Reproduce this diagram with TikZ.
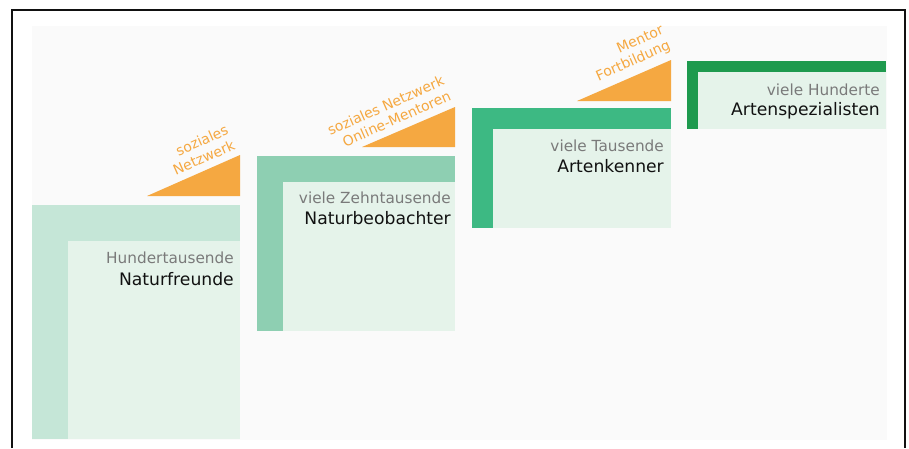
\documentclass[tikz,border=0pt]{standalone}
\usepackage{fontspec}
\setmainfont{DejaVu Sans}
\usepackage{xcolor}
\usetikzlibrary{positioning,calc}

\definecolor{pagegray}{HTML}{FAFAFA}
\definecolor{innergreen}{HTML}{E5F3EA}
\definecolor{greenA}{HTML}{C5E6D7}
\definecolor{greenB}{HTML}{8ECFB2}
\definecolor{greenC}{HTML}{3DB983}
\definecolor{greenD}{HTML}{1E9A4E}
\definecolor{wedgeorange}{HTML}{F5A841}
\definecolor{countgray}{HTML}{7A7A7A}
\definecolor{rolegray}{HTML}{111111}

\begin{document}
\begin{tikzpicture}[
    x=1pt, y=-1pt,
    stairbox/.style={rectangle, inner sep=0, outer sep=0, anchor=north west},
    innerbox/.style={stairbox, fill=innergreen},
    count/.style={anchor=base east, inner sep=0, text=countgray, font=\fontsize{15.3}{18}\selectfont},
    role/.style={anchor=base east, inner sep=0, text=rolegray, font=\fontsize{17.2}{20}\selectfont},
    wedge/.style={fill=wedgeorange},
    support/.style={align=right, rotate=24, inner sep=0, text=wedgeorange, font=\fontsize{14}{16.5}\selectfont}
]
    \useasboundingbox (0,0) rectangle (909,448);

    % Frame and page
    \fill[pagegray] (32,26) rectangle (887,440);
    \draw[line width=1.3pt, rolegray] (12,448) -- (12,10) -- (905,10) -- (905,448);

    % Step 1
    \node[stairbox, fill=greenA, minimum width=208, minimum height=234] (s1) at (32,205) {};
    \node[innerbox, minimum width=172, minimum height=198] (i1) at (68,241) {};
    \node[count] (c1) at (234,263) {Hundertausende};
    \node[role] (r1) at (234,285) {Naturfreunde};

    % Step 2
    \node[stairbox, fill=greenB, minimum width=198, minimum height=175] (s2) at (257,156) {};
    \node[innerbox, minimum width=172, minimum height=149] (i2) at (283,182) {};
    \node[count] (c2) at (451,203) {viele Zehntausende};
    \node[role] (r2) at (451,224) {Naturbeobachter};

    % Step 3
    \node[stairbox, fill=greenC, minimum width=199, minimum height=120] (s3) at (472,108) {};
    \node[innerbox, minimum width=178, minimum height=99] (i3) at (493,129) {};
    \node[count] (c3) at (664,151) {viele Tausende};
    \node[role] (r3) at (664,172) {Artenkenner};

    % Step 4
    \node[stairbox, fill=greenD, minimum width=199, minimum height=68] (s4) at (687,61) {};
    \node[innerbox, minimum width=188, minimum height=57] (i4) at (698,72) {};
    \node[count] (c4) at (880,95) {viele Hunderte};
    \node[role] (r4) at (880,115) {Artenspezialisten};

    % Wedges between the steps
    \fill[wedge] (147,196) -- (240,196) -- (240,155) -- cycle;
    \fill[wedge] (362,147) -- (455,147) -- (455,107) -- cycle;
    \fill[wedge] (577,101) -- (671,101) -- (671,60) -- cycle;

    \node[support] (w1) at (200.5,150) {soziales\\Netzwerk};
    \node[support] (w2) at (389,113) {soziales Netzwerk\\Online-Mentoren};
    \node[support] (w3) at (630,54) {Mentor\\Fortbildung};
\end{tikzpicture}
\end{document}
